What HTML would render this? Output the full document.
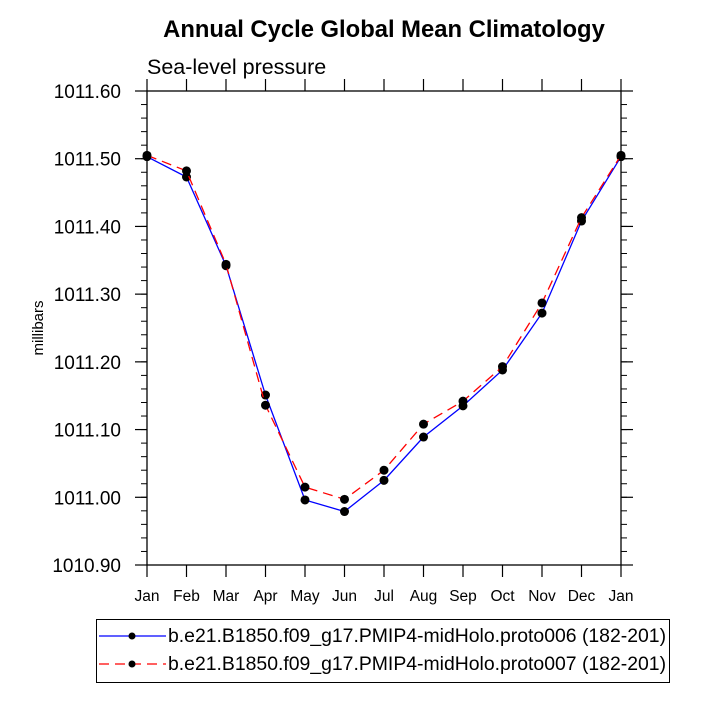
<!DOCTYPE html>
<html><head><meta charset="utf-8"><style>
body{margin:0;background:#fff;}
svg{display:block;font-family:"Liberation Sans",Arial,sans-serif;}
</style></head><body>
<svg id="chart" width="701" height="701" viewBox="0 0 701 701">
<text x="384" y="37" text-anchor="middle" font-size="23.8" font-weight="bold">Annual Cycle Global Mean Climatology</text>
<text x="147" y="74" font-size="21.5">Sea-level pressure</text>
<text transform="translate(43,328) rotate(-90)" text-anchor="middle" font-size="15">millibars</text>
<g id="axes"></g>
<g id="series"></g>
<g>
<rect x="96.5" y="619.5" width="573" height="63" fill="none" stroke="#000" stroke-width="1"/>
<line x1="99" y1="636" x2="166" y2="636" stroke="#0000ff" stroke-width="1.3"/>
<circle cx="132" cy="636" r="3.5" fill="#000"/>
<text x="168" y="642" font-size="19.4">b.e21.B1850.f09_g17.PMIP4-midHolo.proto006 (182-201)</text>
<line x1="99" y1="664" x2="166" y2="664" stroke="#ff0000" stroke-width="1.3" stroke-dasharray="10,6"/>
<circle cx="132" cy="664" r="3.5" fill="#000"/>
<text x="168" y="670" font-size="19.4">b.e21.B1850.f09_g17.PMIP4-midHolo.proto007 (182-201)</text>
</g>
</svg>
<script>
const months=["Jan","Feb","Mar","Apr","May","Jun","Jul","Aug","Sep","Oct","Nov","Dec","Jan"];
const proto006=[1011.503,1011.473,1011.342,1011.151,1010.996,1010.979,1011.025,1011.089,1011.135,1011.188,1011.272,1011.408,1011.503];
const proto007=[1011.505,1011.482,1011.344,1011.136,1011.015,1010.997,1011.040,1011.108,1011.142,1011.193,1011.287,1011.413,1011.505];
const yTicks=[1010.90,1011.00,1011.10,1011.20,1011.30,1011.40,1011.50,1011.60];
const NS="http://www.w3.org/2000/svg";
const L=147,R=621,T=91,B=565,ymin=1010.9,ymax=1011.6;
const xs=i=>L+(R-L)*i/(months.length-1);
const ys=v=>B-(v-ymin)/(ymax-ymin)*(B-T);
function mk(tag,attrs,parent){const e=document.createElementNS(NS,tag);for(const k in attrs)e.setAttribute(k,attrs[k]);parent.appendChild(e);return e;}
const ax=document.getElementById('axes');
const frame=mk('rect',{x:L,y:T,width:R-L,height:B-T,fill:'none',stroke:'#000','stroke-width':1.3},ax);


yTicks.forEach(v=>{const y=ys(v);
 mk('line',{x1:L-12,y1:y,x2:L,y2:y,stroke:'#000','stroke-width':1.2},ax);
 mk('line',{x1:R,y1:y,x2:R+12,y2:y,stroke:'#000','stroke-width':1.2},ax);
 const t=mk('text',{x:L-26,y:y+7,'text-anchor':'end','font-size':19},ax);
 
 
 t.textContent=v.toFixed(2);
});
for(let v=ymin;v<ymax-1e-9;v+=0.02){const y=ys(v);
 mk('line',{x1:L-6,y1:y,x2:L,y2:y,stroke:'#000','stroke-width':1},ax);
 mk('line',{x1:R,y1:y,x2:R+6,y2:y,stroke:'#000','stroke-width':1},ax);}
months.forEach((m,i)=>{const x=xs(i);
 mk('line',{x1:x,y1:B,x2:x,y2:B+12,stroke:'#000','stroke-width':1.2},ax);
 mk('line',{x1:x,y1:T-12,x2:x,y2:T,stroke:'#000','stroke-width':1.2},ax);
 const t=mk('text',{x:x,y:B+36,'text-anchor':'middle','font-size':15.5},ax);
 
 
 t.textContent=m;
});
const sg=document.getElementById('series');
function series(vals,color,dash,name){
 const pts=vals.map((v,i)=>xs(i)+','+ys(v)).join(' ');
 const pl=mk('polyline',{points:pts,fill:'none',stroke:color,'stroke-width':1.3},sg);
 if(dash)pl.setAttribute('stroke-dasharray','10,6');
 
 
 vals.forEach((v,i)=>{const c=mk('circle',{cx:xs(i),cy:ys(v),r:4.5,fill:'#000'},sg);
  
  });
}
series(proto006,'#0000ff',false,'proto006');
series(proto007,'#ff0000',true,'proto007');
</script>
</body></html>
